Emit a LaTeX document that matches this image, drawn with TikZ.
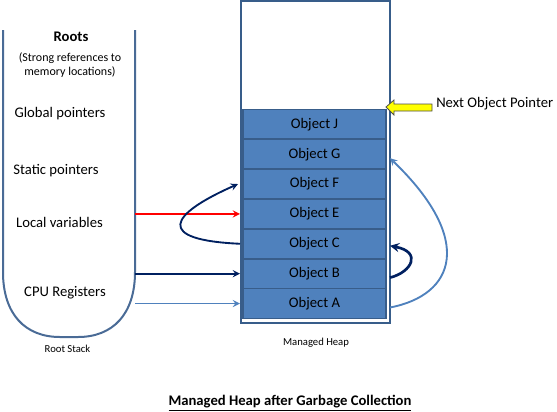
\documentclass[tikz,border=0pt]{standalone}
\usepackage{fontspec}
\setmainfont{Carlito}
\usepackage{tikz}
\usetikzlibrary{positioning}

\definecolor{objfill}{HTML}{4F81BD}
\definecolor{objline}{HTML}{385D8A}
\definecolor{stackline}{HTML}{4A6B96}
\definecolor{navy}{HTML}{002060}
\definecolor{ptrfill}{HTML}{FFFF00}

\begin{document}
\begin{tikzpicture}[x=0.75pt, y=-0.75pt,
    obj/.style={draw=objline, line width=1.3pt, fill=objfill, minimum width=107pt,
                minimum height=22.4pt, inner sep=0pt, outer sep=0pt,
                font=\fontsize{11}{13}\selectfont},
    root/.style={font=\fontsize{11}{13}\selectfont, inner sep=0pt}]
            \useasboundingbox (0,0) rectangle (557,411);
            % root stack
            \draw[stackline, line width=1.5pt] (3,30) -- (3,272)
                .. controls (3,314) and (25,337) .. (60,337) -- (78,337)
                .. controls (113,337) and (135,314) .. (135,272) -- (135,30);
            \coordinate (stackR) at (135,0);
            \node[root, font=\fontsize{11}{13}\selectfont\bfseries] (roots) at (71,37) {Roots};
            \node[root, font=\fontsize{9}{11}\selectfont, align=center] (strong) at (70,65)
                {(Strong references to\\memory locations)};
            \node[root] (global) at (60,114) {Global pointers};
            \node[root] (static) at (56,171) {Static pointers};
            \node[root] (local) at (59.5,222) {Local variables};
            \node[root] (cpu) at (65,293) {CPU Registers};
            \node[root, font=\fontsize{8}{10}\selectfont] (rootstack) at (67.5,349) {Root Stack};

            % managed heap
            \draw[objline, line width=1.5pt] (241,1) rectangle (390,323);
            \coordinate (heapL) at (240,0);
            \coordinate (heapR) at (390,0);
            \node[obj] (objA) at (314.5,303.5) {Object A};
            \node[obj, above=0pt of objA] (objB) {Object B};
            \node[obj, above=0pt of objB] (objC) {Object C};
            \node[obj, above=0pt of objC] (objE) {Object E};
            \node[obj, above=0pt of objE] (objF) {Object F};
            \node[obj, above=0pt of objF] (objG) {Object G};
            \node[obj, above=0pt of objG] (objJ) {Object J};
            \node[root, font=\fontsize{8}{10}\selectfont] (heap) at (316,343) {Managed Heap};

            % next object pointer
            \node[root, anchor=west] (next) at (436,104) {Next Object Pointer};
            \filldraw[fill=ptrfill, draw=black!70, line width=0.6pt]
                (386,107) -- (394,100) -- (394,104) -- (432,104) -- (432,111)
                -- (394,111) -- (394,115) -- cycle;

            % references
            \draw[red, line width=1.4pt, -stealth] (objE.west -| stackR) -- (objE.west -| heapL);
            \draw[navy, line width=1.4pt, -stealth] (objB.west -| stackR) -- (objB.west -| heapL);
            \draw[objfill, line width=1.4pt, -stealth] (objA.west -| stackR) -- (objA.west -| heapL);
            \draw[navy, line width=1.4pt, -stealth] (objC.west -| heapL)
                .. controls (155,240) and (168,215) .. ([xshift=-1.5pt]objF.west -| heapL);
            \draw[navy, line width=2pt, -stealth] ([yshift=-3pt]objB.east -| heapR)
                .. controls (412,272) and (422,252) .. ([yshift=-1.5pt]objC.east -| heapR);
            \draw[objfill, line width=1.4pt, -stealth] ([yshift=-3pt]objA.east -| heapR)
                .. controls (455,295) and (475,240) .. ([yshift=-3pt]objG.east -| heapR);

            \node[root, font=\fontsize{11}{13}\selectfont\bfseries] (title) at (290,403)
                {\underline{Managed Heap after Garbage Collection}};
\end{tikzpicture}
\end{document}
